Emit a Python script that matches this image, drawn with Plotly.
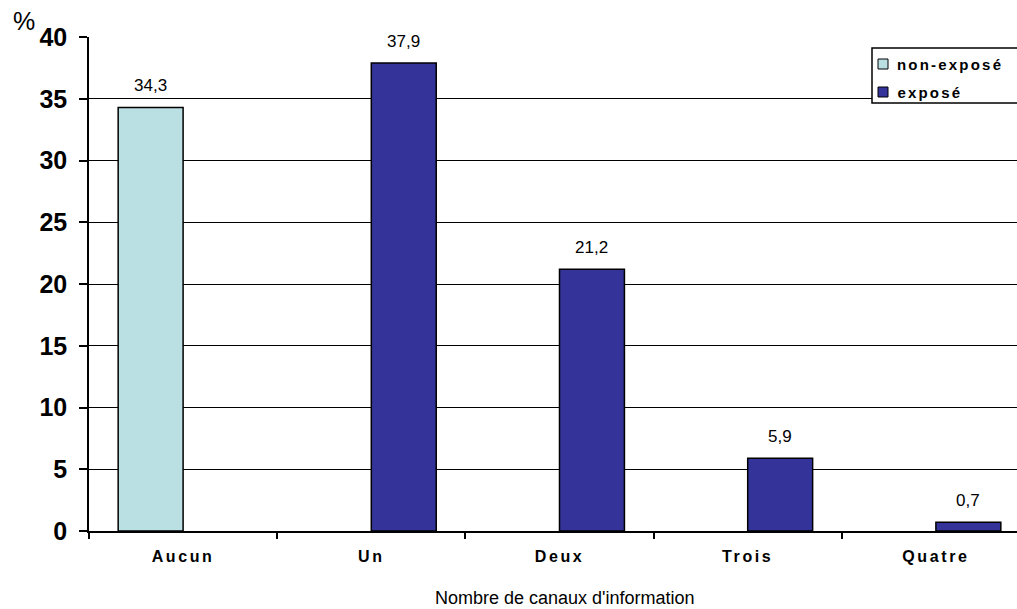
import plotly.graph_objects as go

categories = ["Aucun", "Un", "Deux", "Trois", "Quatre"]
non_expose = [34.3, None, None, None, None]
expose = [None, 37.9, 21.2, 5.9, 0.7]
series_names = ["non-exposé", "exposé"]
y_ticks = [0, 5, 10, 15, 20, 25, 30, 35, 40]

W, H = 1017, 609
ML, MR, MT, MB = 89, 0, 37, 78
PLOT_W = 941  # full width of the five category slots
BARGAP = 0.31
LIGHT = "#BBE0E3"
DARK = "#333399"
FONT = "Liberation Sans, Arial, sans-serif"
TICK_SPACING = 2.6
LEGEND_SPACING = 2.2


def fmt(v):
    return f"{v:.1f}".replace(".", ",")


def px_x(px):
    return (px - ML) / (W - ML - MR)


def px_y(py):
    return (H - MB - py) / (H - MT - MB)


fig = go.Figure()
for vals, name, color in ((non_expose, series_names[0], LIGHT),
                          (expose, series_names[1], DARK)):
    fig.add_trace(go.Bar(
        x=categories, y=vals, name=name, showlegend=False,
        marker=dict(color=color, line=dict(color="black", width=1.5)),
    ))

# value labels above each bar
slot = (1 - BARGAP) / 4
for vals, shift in ((non_expose, -slot), (expose, slot)):
    for i, v in enumerate(vals):
        if v is None:
            continue
        fig.add_annotation(
            x=i + shift, y=v, xref="x", yref="y", text=fmt(v),
            showarrow=False, yanchor="bottom", yshift=10,
            font=dict(family=FONT, size=17, color="black"),
        )

# legend box (runs past the right edge of the page)
fig.add_shape(type="rect", xref="paper", yref="paper",
              x0=px_x(872), x1=px_x(1040), y0=px_y(103), y1=px_y(48),
              line=dict(color="black", width=1.5), fillcolor="white")
legend_annots = []
for row_y, name, color in ((64, series_names[0], LIGHT),
                           (92, series_names[1], DARK)):
    fig.add_shape(type="rect", xref="paper", yref="paper",
                  x0=px_x(878), x1=px_x(888), y0=px_y(row_y + 5), y1=px_y(row_y - 5),
                  line=dict(color="black", width=1), fillcolor=color)
    legend_annots.append(len(fig.layout.annotations))
    # text is centred inside its box, so the extra letter spacing spreads to
    # both sides; push the anchor right by half of it
    fig.add_annotation(
        x=px_x(895 + len(name) * LEGEND_SPACING / 2), y=px_y(row_y),
        xref="paper", yref="paper", text=name,
        showarrow=False, xanchor="left", yanchor="middle",
        font=dict(family=FONT, size=15, weight="bold", color="black"),
    )

fig.add_annotation(
    x=px_x(24), y=px_y(21), xref="paper", yref="paper", text="%",
    showarrow=False, xanchor="center", yanchor="middle",
    font=dict(family=FONT, size=25, color="black"),
)
fig.add_annotation(
    x=px_x(565), y=px_y(598), xref="paper", yref="paper",
    text="Nombre de canaux d'information", showarrow=False,
    xanchor="center", yanchor="middle",
    font=dict(family=FONT, size=18, color="black"),
)

span = (W - ML - MR) / PLOT_W * len(categories)
fig.update_layout(
    width=W, height=H,
    margin=dict(l=ML, r=MR, t=MT, b=MB),
    paper_bgcolor="white", plot_bgcolor="white",
    barmode="group", bargap=BARGAP, bargroupgap=0,
    font=dict(family=FONT, color="black"),
    showlegend=False,
    xaxis=dict(
        type="category", range=[-0.5, -0.5 + span],
        showline=True, linecolor="black", linewidth=1.5,
        ticks="outside", tickson="boundaries", ticklen=6, tickwidth=1.5,
        tickcolor="black", showgrid=False,
        tickfont=dict(size=16, weight="bold"),
        ticklabelstandoff=10,
    ),
    yaxis=dict(
        range=[0, 40], tickvals=y_ticks,
        showline=True, linecolor="black", linewidth=1.5,
        ticks="outside", ticklen=8, tickwidth=1.5, tickcolor="black",
        showgrid=True, gridcolor="black", gridwidth=1,
        zeroline=False,
        tickfont=dict(size=25, weight="bold"),
        ticklabelstandoff=7,
    ),
)

# wide letter spacing for category and legend labels
legend_sel = ", ".join(f'g.annotation[data-index="{i}"] text' for i in legend_annots)
css = (".xtick text {letter-spacing: %spx;} " % TICK_SPACING +
       legend_sel + " {letter-spacing: %spx;}" % LEGEND_SPACING)
post = ("var s=document.createElement('style');s.textContent=" + repr(css) +
        ";document.head.appendChild(s);")
fig.write_html("out.html", post_script=post)
